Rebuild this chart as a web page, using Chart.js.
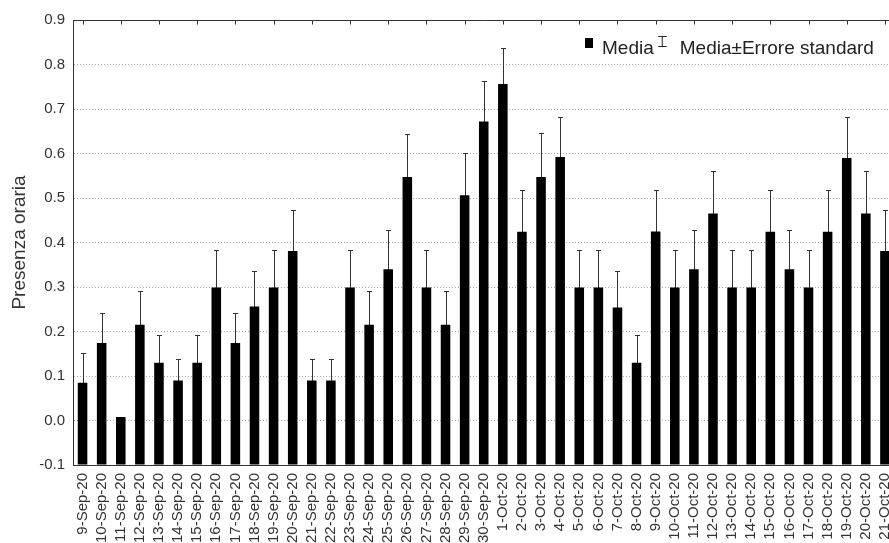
<!DOCTYPE html>
<html>
<head>
<meta charset="utf-8">
<script src="https://cdn.jsdelivr.net/npm/chart.js@4.4.1/dist/chart.umd.min.js"></script>
<style>
    body { margin: 0; overflow: hidden; background: #fff; }
</style>
</head>
<body>
<canvas id="chart1" width="911" height="543"></canvas>
<script>
const giorni = [
    '9-Sep-20', '10-Sep-20', '11-Sep-20', '12-Sep-20', '13-Sep-20', '14-Sep-20', '15-Sep-20',
    '16-Sep-20', '17-Sep-20', '18-Sep-20', '19-Sep-20', '20-Sep-20', '21-Sep-20', '22-Sep-20',
    '23-Sep-20', '24-Sep-20', '25-Sep-20', '26-Sep-20', '27-Sep-20', '28-Sep-20', '29-Sep-20',
    '30-Sep-20', '1-Oct-20', '2-Oct-20', '3-Oct-20', '4-Oct-20', '5-Oct-20', '6-Oct-20',
    '7-Oct-20', '8-Oct-20', '9-Oct-20', '10-Oct-20', '11-Oct-20', '12-Oct-20', '13-Oct-20',
    '14-Oct-20', '15-Oct-20', '16-Oct-20', '17-Oct-20', '18-Oct-20', '19-Oct-20', '20-Oct-20',
    '21-Oct-20'
]

// presenza oraria media per giorno
const media = [
    0.085, 0.174, 0.008, 0.215, 0.130, 0.090, 0.130,
    0.299, 0.174, 0.256, 0.299, 0.381, 0.090, 0.090,
    0.299, 0.215, 0.340, 0.547, 0.299, 0.215, 0.506,
    0.672, 0.756, 0.424, 0.547, 0.592, 0.299, 0.299,
    0.254, 0.130, 0.425, 0.299, 0.340, 0.465, 0.299,
    0.299, 0.424, 0.340, 0.299, 0.424, 0.590, 0.465,
    0.381
]

// errore standard della media
const erroreStd = [
    0.067, 0.068, 0.000, 0.076, 0.063, 0.049, 0.063,
    0.084, 0.068, 0.080, 0.084, 0.091, 0.049, 0.049,
    0.084, 0.076, 0.089, 0.097, 0.084, 0.076, 0.095,
    0.090, 0.082, 0.093, 0.098, 0.091, 0.084, 0.084,
    0.082, 0.063, 0.092, 0.084, 0.089, 0.095, 0.084,
    0.084, 0.093, 0.089, 0.084, 0.093, 0.093, 0.095,
    0.093
]

const yMin = -0.1
const yMax = 0.9
const yStep = 0.1

const coloreAssi = '#333'
const fontFamily = '"Liberation Sans", Arial, sans-serif'

// baffi dell'errore standard, disegnati prima delle barre
const erroriPlugin = {
    id: 'errori',
    beforeDatasetsDraw(chart) {
        const ctx = chart.ctx
        const yScale = chart.scales.y
        const bars = chart.getDatasetMeta(0).data
        ctx.save()
        ctx.strokeStyle = '#333'
        ctx.lineWidth = 1
        bars.forEach((bar, i) => {
            const x = Math.round(bar.x) + 0.5
            const alto = Math.round(yScale.getPixelForValue(media[i] + erroreStd[i])) + 0.5
            const basso = yScale.getPixelForValue(media[i] - erroreStd[i])
            ctx.beginPath()
            ctx.moveTo(x, basso)
            ctx.lineTo(x, alto)
            ctx.moveTo(x - 2.5, alto)
            ctx.lineTo(x + 2.5, alto)
            ctx.stroke()
        })
        ctx.restore()
    }
}

// linea superiore con le tacche e legenda dentro il grafico
const cornicePlugin = {
    id: 'cornice',
    afterDraw(chart) {
        const ctx = chart.ctx
        const area = chart.chartArea
        const xScale = chart.scales.x
        ctx.save()
        ctx.strokeStyle = coloreAssi
        ctx.lineWidth = 1
        const top = Math.round(area.top) + 0.5
        ctx.beginPath()
        ctx.moveTo(area.left, top)
        ctx.lineTo(area.right, top)
        for (let i = 0; i < giorni.length; i += 2) {
            const x = Math.round(xScale.getPixelForValue(i)) + 0.5
            ctx.moveTo(x, top)
            ctx.lineTo(x, top + 4)
        }
        ctx.stroke()

        // legenda
        const base = area.top + 34
        let x = area.left + 512
        ctx.fillStyle = '#000'
        ctx.fillRect(x, base - 16, 8, 10)
        x += 17
        ctx.font = '19px ' + fontFamily
        ctx.fillStyle = '#222'
        ctx.textBaseline = 'alphabetic'
        ctx.fillText('Media', x, base)
        x += ctx.measureText('Media').width + 3
        ctx.strokeStyle = '#222'
        ctx.beginPath()
        ctx.moveTo(x + 5.5, base - 18)
        ctx.lineTo(x + 5.5, base - 7)
        ctx.moveTo(x + 1.5, base - 17.5)
        ctx.lineTo(x + 10, base - 17.5)
        ctx.moveTo(x + 1.5, base - 7.5)
        ctx.lineTo(x + 10, base - 7.5)
        ctx.stroke()
        x += 23
        ctx.fillText('Media\u00b1Errore standard', x, base)
        ctx.restore()
    }
}

function renderChart1() {
    const ctx = document.querySelector('#chart1').getContext('2d')
    const chart1 = new Chart(ctx, {
        type: 'bar',
        data: {
            labels: giorni,
            datasets: [{
                label: 'Media',
                data: media,
                base: yMin,
                backgroundColor: '#000',
                borderWidth: 0,
                barPercentage: 0.5,
                categoryPercentage: 1
            }]
        },
        options: {
            responsive: false,
            animation: false,
            layout: {
                padding: { top: 20, right: 6, left: 0, bottom: 0 }
            },
            scales: {
                x: {
                    grid: { display: false, drawTicks: false },
                    border: { display: true, color: coloreAssi, width: 1 },
                    ticks: {
                        autoSkip: false,
                        minRotation: 90,
                        maxRotation: 90,
                        padding: 8,
                        color: '#333',
                        font: { family: fontFamily, size: 15 }
                    },
                    afterFit(scale) { scale.height = 78 }
                },
                y: {
                    min: yMin,
                    max: yMax,
                    grid: {
                        drawTicks: false,
                        color: (c) => {
                            const v = c.tick.value
                            if (Math.abs(v - yMin) < 1e-6 || Math.abs(v - yMax) < 1e-6) return 'rgba(0,0,0,0)'
                            return '#a8a8a8'
                        }
                    },
                    border: { display: true, color: coloreAssi, width: 1, dash: [1, 2] },
                    ticks: {
                        stepSize: yStep,
                        padding: 8,
                        color: '#333',
                        font: { family: fontFamily, size: 15 },
                        callback: (v) => Number(v).toFixed(1)
                    },
                    title: {
                        display: true,
                        text: 'Presenza oraria',
                        color: '#333',
                        padding: { top: 8, bottom: 0 },
                        font: { family: fontFamily, size: 19 }
                    },
                    afterFit(scale) { scale.width = 73 }
                }
            },
            plugins: {
                legend: { display: false },
                tooltip: { enabled: false }
            }
        },
        plugins: [erroriPlugin, cornicePlugin]
    })
}

renderChart1()
</script>
</body>
</html>
